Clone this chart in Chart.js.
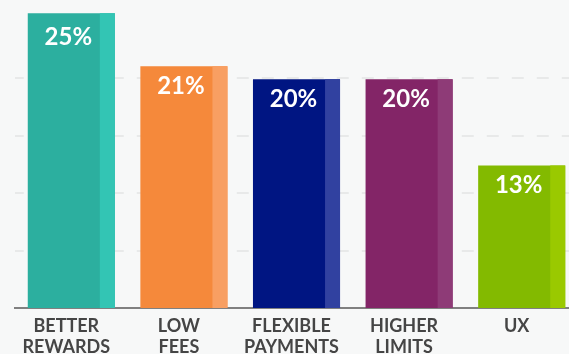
<!DOCTYPE html>
<html>
<head>
	<title>Reasons to switch card</title>
	<style>
		body
		{
			margin: 0;
			background: #f7f8f8;
			overflow: hidden;
		}

		.chartBox
		{
			width: 578px;
			height: 366px;
		}
	</style>
</head>
<body>
	<!-- one bar chart, slightly wider/taller than the window so it gets cropped like the original -->
	<div class="chartBox">
	<canvas id="chart1"></canvas>
	</div>

	<script src="https://cdn.jsdelivr.net/npm/chart.js@4.4.0/dist/chart.umd.min.js"></script>
	<script>

		var categories = [["BETTER", "REWARDS"], ["LOW", "FEES"], ["FLEXIBLE", "PAYMENTS"], ["HIGHER", "LIMITS"], ["UX"]];
		var barHeights = [25.65, 21.03, 19.9, 19.9, 12.4];
		var valueLabels = ["25%", "21%", "20%", "20%", "13%"];
		var mainColors = ["#2caf9f", "#f5893b", "#001582", "#832567", "#83ba00"];
		var stripeColors = ["#33c5b4", "#f89f62", "#3141a0", "#8e3b77", "#9ac900"];

		// draws the lighter strip on the right of every bar, then the white % label on top
		var barExtras = {
			id: "barExtras",
			afterDatasetsDraw: function(chart) {
				var ctx = chart.ctx;
				var meta = chart.getDatasetMeta(0);
				ctx.save();
				meta.data.forEach(function(bar, i) {
					var p = bar.getProps(["x", "y", "base", "width"], true);
					var right = p.x + p.width / 2;
					ctx.fillStyle = stripeColors[i];
					ctx.fillRect(right - 15, p.y, 15, p.base - p.y);

					ctx.fillStyle = "#ffffff";
					ctx.font = "bold 24px Lato";
					ctx.textAlign = "center";
					ctx.textBaseline = "alphabetic";
					// the tallest bar has its label sitting a bit lower in the original
					ctx.fillText(valueLabels[i], p.x - 3, p.y + (i == 0 ? 32 : 28));
				});
				ctx.restore();
			}
		};

		var ctx = document.getElementById("chart1").getContext("2d");
		var chart = new Chart(ctx, {
			type: "bar",
			data: {
				labels: categories,
				datasets: [{
					data: barHeights,
					backgroundColor: mainColors,
					borderWidth: 0,
					categoryPercentage: 1,
					barPercentage: 0.7733
				}]
			},
			options: {
				responsive: true,
				maintainAspectRatio: false,
				animation: false,
				events: [],
				layout: {
					padding: {left: 15, right: 0, top: 0, bottom: 0}
				},
				plugins: {
					legend: {display: false},
					tooltip: {enabled: false}
				},
				scales: {
					x: {
						grid: {display: false, drawTicks: false},
						border: {display: true, color: "#808080", width: 2},
						ticks: {
							color: "#454545",
							padding: 8,
							labelOffset: -5,
							maxRotation: 0,
							autoSkip: false,
							font: {family: "Lato", weight: "bold", size: 18, lineHeight: 21 / 18}
						}
					},
					y: {
						min: 0,
						max: 26.8,
						grid: {color: "#e8e9e9", lineWidth: 2, drawTicks: false},
						border: {display: false, dash: [12, 13], dashOffset: 3.25},
						ticks: {display: false, stepSize: 5},
						afterBuildTicks: function(scale) {
							scale.ticks = scale.ticks.filter(function(t) {
								return t.value > 0 && t.value <= 20;
							});
						}
					}
				}
			},
			plugins: [barExtras]
		});

	</script>
</body>
</html>
